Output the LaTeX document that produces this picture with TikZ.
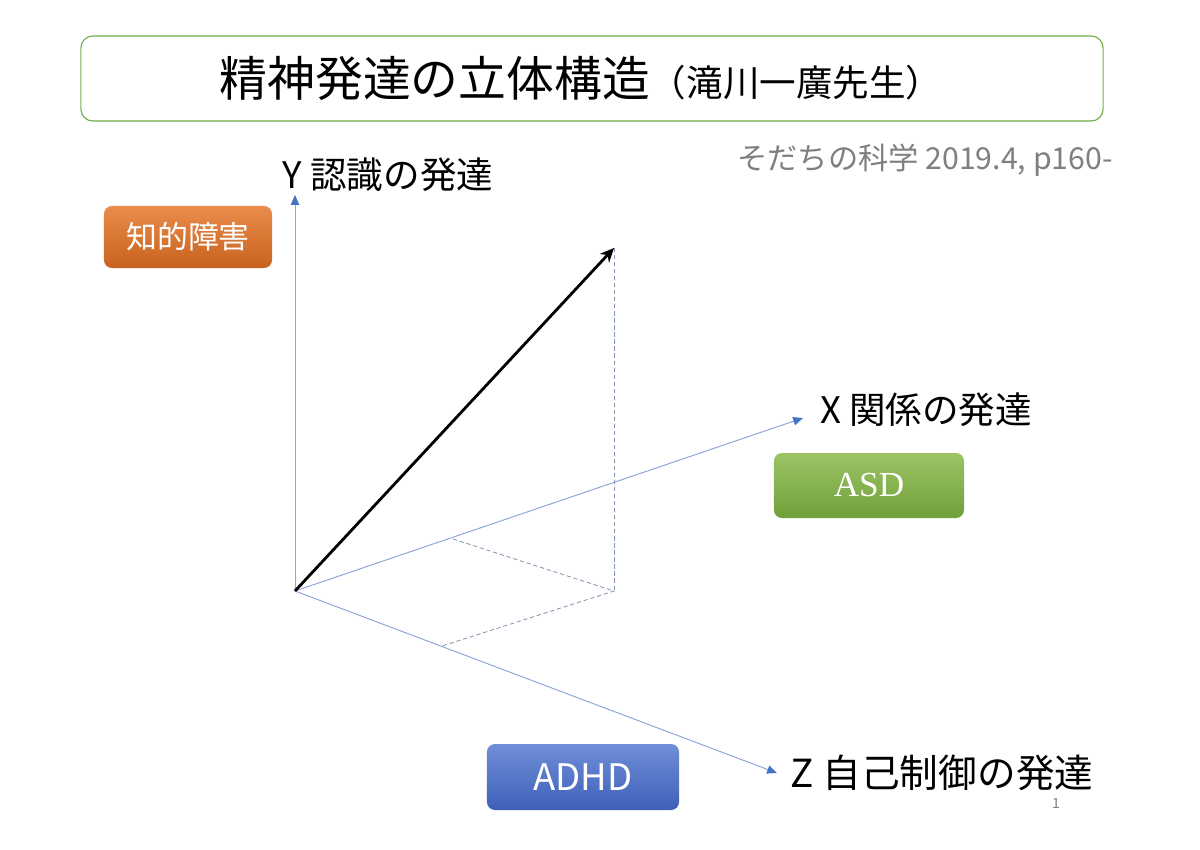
\documentclass[tikz,border=0pt]{standalone}
\usepackage{fontspec}
\setmainfont{Noto Sans CJK JP}
\newfontfamily\serifasd{Liberation Serif}
\usetikzlibrary{arrows.meta,shadings}

\definecolor{frameGreen}{RGB}{112,173,71}
\definecolor{axisLine}{RGB}{143,165,218}
\definecolor{axisHead}{RGB}{68,114,196}
\definecolor{dashLine}{RGB}{132,151,176}
\definecolor{refGray}{RGB}{127,127,127}

\begin{document}
\begin{tikzpicture}[
    x=0.025cm, y=-0.025cm,
    titlebox/.style={rectangle, draw=frameGreen, line width=0.8pt, rounded corners=0.3cm, minimum width=25.55cm, minimum height=2.125cm, inner sep=0pt},
    axislabel/.style={inner sep=0pt, font=\fontsize{26}{30}\selectfont},
    tagbox/.style={rectangle, rounded corners=0.2cm, text=white, inner sep=0pt, minimum width=4.75cm, minimum height=1.625cm},
    axis/.style={draw=axisLine, line width=0.7pt, -{Triangle[color=axisHead, length=7pt, width=6pt]}},
    vector/.style={line width=2pt, -{Stealth[length=10pt, width=9pt]}},
    helper/.style={draw=dashLine, line width=0.6pt, dash pattern=on 3pt off 2pt}
]
    \useasboundingbox (0,0) rectangle (1200,849);

% -------------------------
% Header
% -------------------------
    \node[titlebox] (title_box) at (592,78.5) {};
    \node[inner sep=0pt] (title) at (581,78.5) {\fontsize{34}{40}\selectfont 精神発達の立体構造\fontsize{26}{30}\selectfont （滝川一廣先生）};
    \node[inner sep=0pt, text=refGray, font=\fontsize{21.5}{25}\selectfont] (ref) at (925,160) {そだちの科学 2019.4, p160-};

% -------------------------
% Axes
% -------------------------
    \coordinate (o) at (295,591);
    \coordinate (y_end) at (295,195);
    \coordinate (x_end) at (803,418);
    \coordinate (z_end) at (777,773);

    \draw[axis] (o) -- (y_end);
    \draw[axis] (o) -- (x_end);
    \draw[axis] (o) -- (z_end);

    \node[axislabel] (lab_y) at (388,175) {Y 認識の発達};
    \node[axislabel] (lab_x) at (926,410) {X 関係の発達};
    \node[axislabel, font=\fontsize{27.5}{32}\selectfont] (lab_z) at (942,773) {Z 自己制御の発達};

% -------------------------
% Vector & projections
% -------------------------
    \coordinate (p) at (614,248);
    \coordinate (p_xz) at (614,591);
    \coordinate (p_x) at (453,539);
    \coordinate (p_z) at (442,646);

    \draw[helper] (p) -- (p_xz);
    \draw[helper] (p_x) -- (p_xz) -- (p_z);
    \draw[vector] (o) -- (p);

% -------------------------
% Tags
% -------------------------
    \node[tagbox, top color={rgb,255:red,234;green,140;blue,75}, bottom color={rgb,255:red,200;green,98;blue,30}, minimum width=4.2cm, minimum height=1.55cm, font=\fontsize{22}{26}\selectfont] (box_id) at (188,237) {知的障害};
    \node[tagbox, top color={rgb,255:red,156;green,196;blue,101}, bottom color={rgb,255:red,112;green,160;blue,58}, font=\serifasd\fontsize{25}{29}\selectfont] (box_asd) at (869,485.5) {ASD};
    \node[tagbox, top color={rgb,255:red,111;green,143;blue,216}, bottom color={rgb,255:red,63;green,95;blue,184}, minimum width=4.8cm, minimum height=1.65cm, font=\fontsize{26}{30}\selectfont] (box_adhd) at (583,777) {ADHD};

    \node[inner sep=0pt, text=refGray, font=\fontsize{10}{12}\selectfont] (page) at (1056,803) {1};
\end{tikzpicture}
\end{document}
